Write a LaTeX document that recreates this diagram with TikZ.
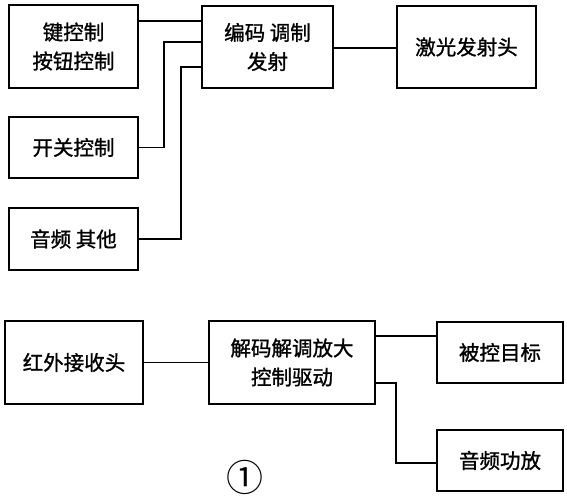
\documentclass[tikz,border=0pt]{standalone}
\usepackage{fontspec}
\newfontfamily\cjk{Noto Sans CJK SC}[FakeBold=1.2]
\newfontfamily\cjknum{Noto Sans CJK SC}
\begin{document}
\begin{tikzpicture}[x=1pt,y=-1pt,
  blk/.style={draw, line width=2.4pt, align=center, inner sep=0pt,
    font=\cjk\fontsize{20.5}{29}\selectfont},
  conn/.style={line width=1.1pt}]
\useasboundingbox (0,0) rectangle (567,500);
% top group
\node[blk, minimum width=129, minimum height=83] (A) at (73.5,46.5) {键控制\\按钮控制};
\node[blk, minimum width=129, minimum height=61] (D) at (73.5,147.5) {开关控制};
\node[blk, minimum width=129, minimum height=62] (E) at (73.5,239) {音频 其他};
\node[blk, minimum width=131, minimum height=82] (B) at (267.5,47) {编码 调制\\发射};
\node[blk, minimum width=139, minimum height=82] (C) at (466.5,47) {激光发射头};
\draw[conn] (A.east |- 0,21) -- (B.west |- 0,21);
\draw[conn] (D.east) -| (164,42) -- (B.west |- 0,42);
\draw[conn] (E.east) -| (181,67) -- (B.west |- 0,67);
\draw[conn] (B.east |- 0,48) -- (C.west |- 0,48);
% bottom group
\node[blk, minimum width=138, minimum height=83] (F) at (74,362.5) {红外接收头};
\node[blk, minimum width=166, minimum height=83] (G) at (292,362.5) {解码解调放大\\控制驱动};
\node[blk, minimum width=126, minimum height=61] (H) at (500,352.5) {被控目标};
\node[blk, minimum width=126, minimum height=61] (I) at (500,460.5) {音频功放};
\draw[conn] (F.east) -- (G.west);
\draw[conn] (G.east |- 0,336) -- (H.west |- 0,336);
\draw[conn] (G.east |- 0,383) -| (396,463) -- (I.west |- 0,463);
\node[font=\cjknum\fontsize{37}{37}\selectfont, inner sep=0pt] (num) at (245,477) {①};
\end{tikzpicture}
\end{document}
